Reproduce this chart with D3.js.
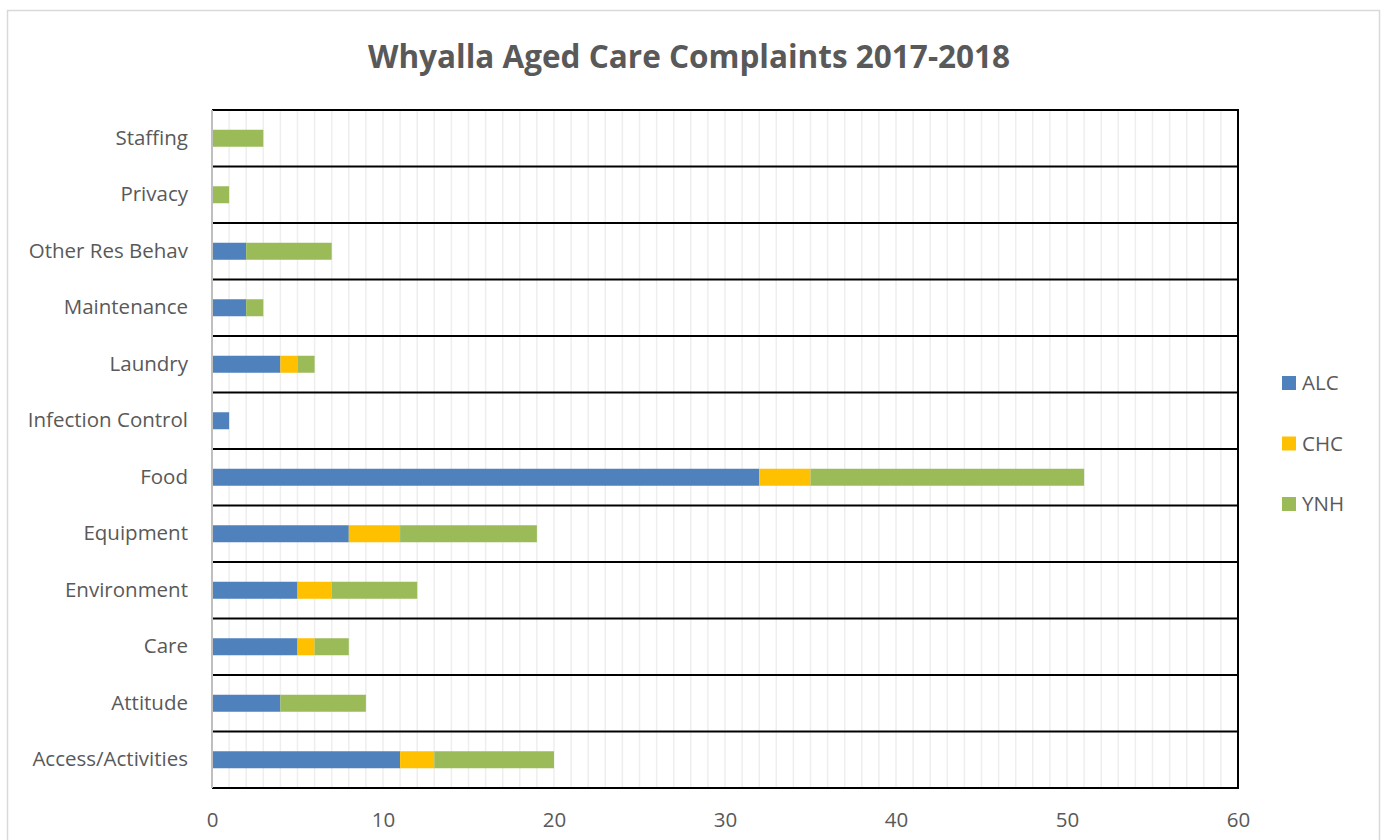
<!DOCTYPE html>
<html>
<head>
<meta charset="utf-8">
<script src="https://cdn.jsdelivr.net/npm/d3@7"></script>
<style>
  body { margin: 0; background: #fff; }
  text { font-family: "Open Sans", "Noto Sans", sans-serif; fill: #595959; }
</style>
</head>
<body>
<svg id="chart" width="1385" height="840"></svg>
<script>
// categories bottom to top, as in the chart
var categories = ["Access/Activities", "Attitude", "Care", "Environment", "Equipment", "Food",
  "Infection Control", "Laundry", "Maintenance", "Other Res Behav", "Privacy", "Staffing"];
var seriesNames = ["ALC", "CHC", "YNH"];
var alc = [11, 4, 5, 5, 8, 32, 1, 4, 2, 2, 0, 0];
var chc = [2, 0, 1, 2, 3, 3, 0, 1, 0, 0, 0, 0];
var ynh = [7, 5, 2, 5, 8, 16, 0, 1, 1, 5, 1, 3];
var xTicks = [0, 10, 20, 30, 40, 50, 60];
var colors = ["#4f81bd", "#ffc000", "#9bbb59"];

var svg = d3.select("#chart");

// outer frame
svg.append("rect").attr("x", 7.5).attr("y", 10.5).attr("width", 1372).attr("height", 840)
  .attr("fill", "none").attr("stroke", "#d9d9d9").attr("stroke-width", 1.5);

svg.append("text").attr("x", 689).attr("y", 68).attr("text-anchor", "middle")
  .style("font-size", "31.5px").style("font-weight", "bold")
  .text("Whyalla Aged Care Complaints 2017-2018");

var pLeft = 212, pRight = 1238, pTop = 110, pBottom = 788;
var x = d3.scaleLinear().domain([0, 60]).range([pLeft, pRight]);
var y = d3.scaleBand().domain(categories.slice().reverse()).range([pTop, pBottom]).paddingInner(0).paddingOuter(0);

var rows = categories.map(function (c, i) {
  var r = { cat: c };
  seriesNames.forEach(function (s, j) { r[s] = [alc, chc, ynh][j][i]; });
  return r;
});
var stacked = d3.stack().keys(seriesNames)(rows);

// minor grid every 1
svg.append("g").selectAll("line").data(d3.range(1, 60))
  .join("line")
  .attr("x1", function (d) { return x(d); }).attr("x2", function (d) { return x(d); })
  .attr("y1", pTop).attr("y2", pBottom)
  .attr("stroke", "#eeeeee").attr("stroke-width", 1.5);

// row separators
svg.append("g").selectAll("line").data(d3.range(0, 13))
  .join("line")
  .attr("x1", pLeft).attr("x2", pRight)
  .attr("y1", function (d) { return pTop + d * y.step(); })
  .attr("y2", function (d) { return pTop + d * y.step(); })
  .attr("stroke", "#000").attr("stroke-width", 2);

svg.append("line").attr("x1", pRight).attr("x2", pRight).attr("y1", pTop - 1).attr("y2", pBottom + 1)
  .attr("stroke", "#000").attr("stroke-width", 2);

// bars
var barH = 17;
svg.append("g").selectAll("g").data(stacked)
  .join("g").attr("fill", function (d, i) { return colors[i]; })
  .selectAll("rect").data(function (d) { return d; })
  .join("rect")
  .attr("x", function (d) { return x(d[0]); })
  .attr("width", function (d) { return x(d[1]) - x(d[0]); })
  .attr("y", function (d) { return y(d.data.cat) + y.bandwidth() / 2 - barH / 2; })
  .attr("height", barH);

// left axis line (gray)
svg.append("line").attr("x1", pLeft).attr("x2", pLeft).attr("y1", pTop).attr("y2", pBottom)
  .attr("stroke", "#bfbfbf").attr("stroke-width", 2);

// category labels
var yAxis = svg.append("g").attr("transform", "translate(" + pLeft + ",0)")
  .call(d3.axisLeft(y).tickSize(0).tickPadding(24));
yAxis.select(".domain").remove();
yAxis.selectAll("text").style("font-size", "20.5px").style("font-family", "\"Open Sans\", sans-serif")
  .attr("fill", "#595959");

// x tick labels
var xAxis = svg.append("g").attr("transform", "translate(0," + pBottom + ")")
  .call(d3.axisBottom(x).tickValues(xTicks).tickSize(0).tickPadding(24));
xAxis.select(".domain").remove();
xAxis.selectAll("text").style("font-size", "20.5px").style("font-family", "\"Open Sans\", sans-serif")
  .attr("fill", "#595959");

// legend
var legend = svg.append("g").selectAll("g").data(seriesNames).join("g")
  .attr("transform", function (d, i) { return "translate(1282," + (383 + i * 60.5) + ")"; });
legend.append("rect").attr("x", 0).attr("y", -7).attr("width", 14).attr("height", 14)
  .attr("fill", function (d, i) { return colors[i]; });
legend.append("text").attr("x", 20).attr("y", 0).attr("dy", "0.35em")
  .style("font-size", "20.5px").text(function (d) { return d; });
</script>
</body>
</html>
